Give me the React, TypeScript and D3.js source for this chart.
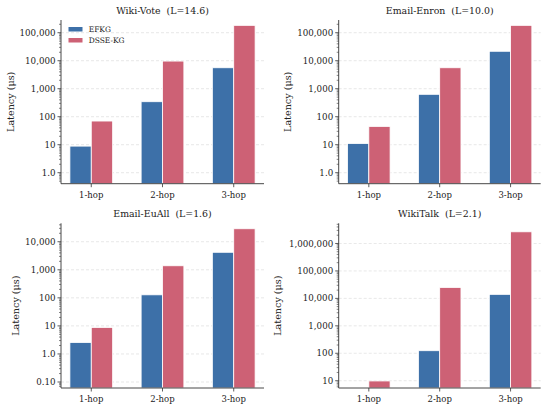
import React from "react";
import * as d3 from "d3";

const hops = ["1-hop", "2-hop", "3-hop"];
const titles = [
  "Wiki-Vote  (L=14.6)",
  "Email-Enron  (L=10.0)",
  "Email-EuAll  (L=1.6)",
  "WikiTalk  (L=2.1)",
];
const seriesNames = ["EFKG", "DSSE-KG"];
const efkg = [
  [8.9, 343, 5600],
  [11, 630, 21700],
  [2.55, 128, 4200],
  [3, 124, 14000],
];
const dsse = [
  [70, 9700, 183000],
  [45, 5600, 183000],
  [8.8, 1390, 29000],
  [9.8, 25000, 2660000],
];
const yTicks = [
  [1, 10, 100, 1000, 10000, 100000],
  [1, 10, 100, 1000, 10000, 100000],
  [0.1, 1, 10, 100, 1000, 10000],
  [10, 100, 1000, 10000, 100000, 1000000],
];
const yTickLabels = [
  ["1.0", "10", "100", "1,000", "10,000", "100,000"],
  ["1.0", "10", "100", "1,000", "10,000", "100,000"],
  ["0.10", "1.0", "10", "100", "1,000", "10,000"],
  ["10", "100", "1,000", "10,000", "100,000", "1,000,000"],
];
// log10 of axis limits
const yLogDomains = [
  [-0.393, 5.454],
  [-0.393, 5.454],
  [-1.214, 4.657],
  [0.735, 6.735],
];

const COLORS = ["#3d70a8", "#cd6175"];
const FONT = "'DejaVu Serif', serif";

const frames = [
  { x0: 61, x1: 264, y0: 20, y1: 183.7, ylx: 10.5, ty: 13.5, xly: 197.5 },
  { x0: 338.7, x1: 540.7, y0: 20, y1: 183.7, ylx: 287.5, ty: 13.5, xly: 197.5 },
  { x0: 61, x1: 264, y0: 223.3, y1: 388, ylx: 15.5, ty: 217, xly: 401.5 },
  { x0: 338.7, x1: 540.7, y0: 223.3, y1: 388, ylx: 278, ty: 217, xly: 401.5 },
];

function Panel({ i }: { i: number }) {
  const f = frames[i];
  const x = d3.scaleLinear().domain([-0.425, 2.425]).range([f.x0, f.x1]);
  const [lo, hi] = yLogDomains[i];
  const y = d3.scaleLog().domain([Math.pow(10, lo), Math.pow(10, hi)]).range([f.y1, f.y0]);
  const unit = x(1) - x(0);
  const barW = 0.3 * unit;
  const series = [efkg[i], dsse[i]];
  const offsets = [-0.15, 0.15];

  const minor: number[] = [];
  for (let d = Math.floor(lo); d <= Math.ceil(hi); d++) {
    for (let k = 2; k <= 9; k++) {
      const v = k * Math.pow(10, d);
      const lv = Math.log10(v);
      if (lv >= lo && lv <= hi) minor.push(v);
    }
  }
  const clipId = `clip${i}`;
  return (
    <g>
      <defs>
        <clipPath id={clipId}>
          <rect x={f.x0} y={f.y0} width={f.x1 - f.x0} height={f.y1 - f.y0} />
        </clipPath>
      </defs>
      {yTicks[i].map((t) => (
        <line
          key={"g" + t}
          x1={f.x0}
          x2={f.x1}
          y1={y(t)}
          y2={y(t)}
          stroke="#d9d9d9"
          strokeWidth={0.6}
          strokeDasharray="3,2"
        />
      ))}
      <g clipPath={`url(#${clipId})`}>
        {series.map((vals, s) =>
          vals.map((v, j) => {
            const top = Math.max(y(v), f.y0);
            const cx = x(j + offsets[s]);
            return (
              <rect
                key={`${s}-${j}`}
                x={cx - barW / 2}
                y={top}
                width={barW}
                height={Math.max(0, f.y1 - top)}
                fill={COLORS[s]}
                stroke="#ffffff"
                strokeWidth={0.8}
              />
            );
          })
        )}
      </g>
      {/* spines */}
      <line x1={f.x0} x2={f.x0} y1={f.y0} y2={f.y1} stroke="#333" strokeWidth={0.9} />
      <line x1={f.x0} x2={f.x1} y1={f.y1} y2={f.y1} stroke="#333" strokeWidth={0.9} />
      {minor.map((m) => (
        <line key={"m" + m} x1={f.x0 - 2} x2={f.x0} y1={y(m)} y2={y(m)} stroke="#333" strokeWidth={0.6} />
      ))}
      {yTicks[i].map((t, k) => (
        <g key={"t" + t}>
          <line x1={f.x0 - 3.5} x2={f.x0} y1={y(t)} y2={y(t)} stroke="#333" strokeWidth={0.8} />
          <text
            x={f.x0 - 5.5}
            y={y(t)}
            dy="0.35em"
            textAnchor="end"
            fontSize={8.7}
            fontFamily={FONT}
            fill="#222"
          >
            {yTickLabels[i][k]}
          </text>
        </g>
      ))}
      {hops.map((h, j) => (
        <g key={h}>
          <line x1={x(j)} x2={x(j)} y1={f.y1} y2={f.y1 + 3.5} stroke="#333" strokeWidth={0.8} />
          <text x={x(j)} y={f.xly} textAnchor="middle" fontSize={8.5} fontFamily={FONT} fill="#222">
            {h}
          </text>
        </g>
      ))}
      <text
        x={(f.x0 + f.x1) / 2}
        y={f.ty}
        textAnchor="middle"
        fontSize={9.4}
        fontFamily={FONT}
        fill="#222"
        style={{ whiteSpace: "pre" }}
      >
        {titles[i]}
      </text>
      <text
        transform={`translate(${f.ylx},${(f.y0 + f.y1) / 2}) rotate(-90)`}
        textAnchor="middle"
        dy="0.35em"
        fontSize={9.6}
        fontFamily={FONT}
        fill="#222"
      >
        Latency (μs)
      </text>
      {i === 0 &&
        seriesNames.map((n, s) => (
          <g key={n}>
            <rect x={68.5} y={27 + s * 11} width={14} height={4.5} fill={COLORS[s]} />
            <text x={88.7} y={29.3 + s * 11} dy="0.35em" fontSize={7.5} fontFamily={FONT} fill="#222">
              {n}
            </text>
          </g>
        ))}
    </g>
  );
}

export default function App() {
  return (
    <svg
      width={550}
      height={409}
      style={{ position: "absolute", left: 0, top: 0, background: "#fff" }}
    >
      <rect width={550} height={409} fill="#fff" />
      {[0, 1, 2, 3].map((i) => (
        <Panel key={i} i={i} />
      ))}
    </svg>
  );
}
